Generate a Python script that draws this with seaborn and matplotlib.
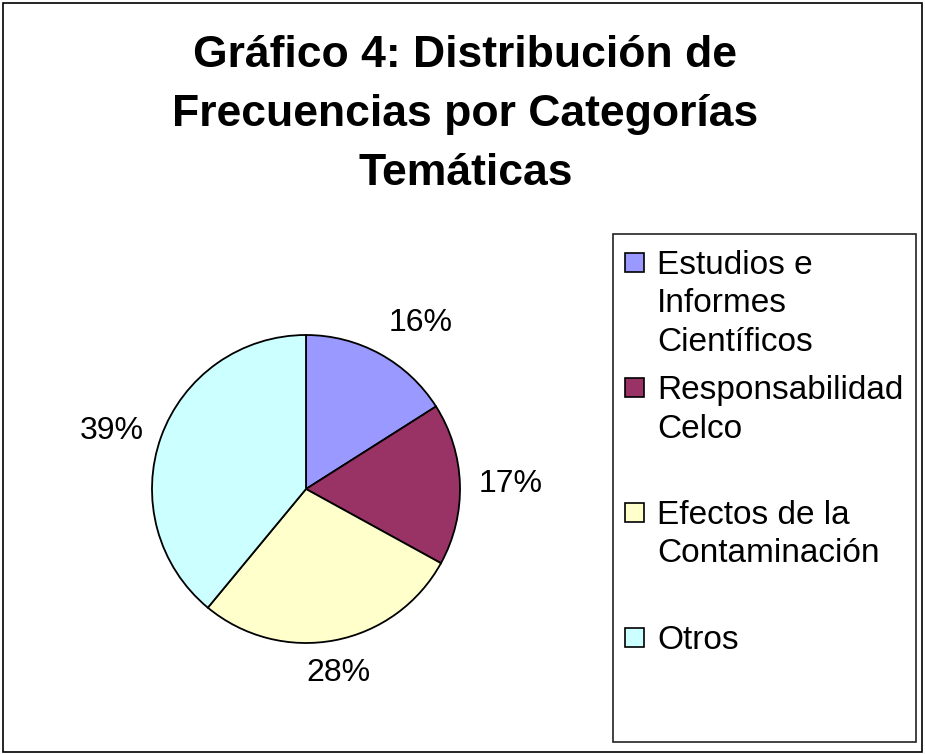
import matplotlib
matplotlib.use('Agg')
import matplotlib.pyplot as plt
from matplotlib.patches import Rectangle
import seaborn as sns
import numpy as np

categories = ['Estudios e\nInformes\nCientíficos', 'Responsabilidad\nCelco',
              'Efectos de la\nContaminación', 'Otros']
percentages = [16, 17, 28, 39]
colors = ['#9999FF', '#993366', '#FFFFCC', '#CCFFFF']
title = 'Gráfico 4: Distribución de\nFrecuencias por Categorías\nTemáticas'

sns.set_theme(style='white')
plt.rcParams['font.family'] = ['Liberation Sans', 'DejaVu Sans']
plt.rcParams['text.color'] = 'black'

W, H = 925, 754
fig = plt.figure(figsize=(W / 100, H / 100), dpi=100)
fig.patch.set_facecolor('white')


def fx(x):
    return x / W


def fy(y):
    return 1 - y / H


# outer chart border
fig.patches.append(Rectangle((fx(3), fy(752)), fx(919), 749 / H, transform=fig.transFigure,
                             fill=False, edgecolor='black', linewidth=1.2))

# baseline of the last title line
fig.text(0.503, fy(185), title, ha='center', va='baseline', fontsize=32, fontweight='bold',
         linespacing=1.56, color='black')

# pie axes: centre ~ (306, 489) px, radius ~154 px
r_px = 154
cx, cy = 306, 489
ax = fig.add_axes([fx(cx - 1.25 * r_px), fy(cy + 1.25 * r_px), 2.5 * r_px / W, 2.5 * r_px / H])
pal = sns.color_palette(colors)
wedges, texts = ax.pie(percentages, colors=pal, startangle=90, counterclock=False,
                       labels=[f'{p}%' for p in percentages], labeldistance=1.12,
                       wedgeprops=dict(edgecolor='black', linewidth=1.3),
                       textprops=dict(fontsize=23, color='black'))
ax.set_xlim(-1.25, 1.25)
ax.set_ylim(-1.25, 1.25)

# Excel-like label anchoring: side of the label box facing the pie
for w, t in zip(wedges, texts):
    ang = np.deg2rad((w.theta1 + w.theta2) / 2)
    c, s = np.cos(ang), np.sin(ang)
    t.set_ha('left' if c > 0.2 else ('right' if c < -0.2 else 'center'))
    t.set_va('bottom' if s > 0.4 else ('top' if s < -0.4 else 'center'))

# legend box
lx0, ly0, lx1, ly1 = 613, 234, 916, 742
fig.patches.append(Rectangle((fx(lx0), fy(ly1)), (lx1 - lx0) / W, (ly1 - ly0) / H,
                             transform=fig.transFigure, fill=False, edgecolor='#222222',
                             linewidth=1.2))
entry_step = 125
line_step = 38.5
base0 = 274
for i, (lab, col) in enumerate(zip(categories, pal)):
    b = base0 + i * entry_step
    fig.patches.append(Rectangle((fx(625), fy(b - 2)), 19 / W, 19 / H, transform=fig.transFigure,
                                 facecolor=col, edgecolor='black', linewidth=1.2))
    for k, line in enumerate(lab.split('\n')):
        fig.text(fx(657), fy(b + k * line_step), line, ha='left', va='baseline', fontsize=24,
                 color='black')

fig.savefig('out.png', dpi=100)
